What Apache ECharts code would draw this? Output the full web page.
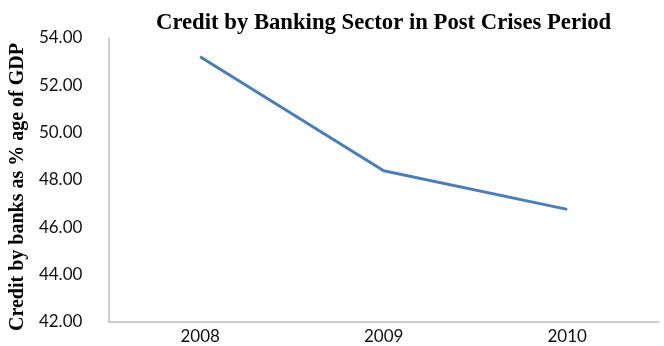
<!DOCTYPE html>
<html>
<head>
<meta charset="utf-8">
<script src="https://cdn.jsdelivr.net/npm/echarts@6/dist/echarts.min.js"></script>
<style>
  html, body { margin: 0; padding: 0; background: #fff; }
  #chart { width: 664px; height: 346px; }
</style>
</head>
<body>
<div id="chart"></div>
<script>
// data
const years = ['2008', '2009', '2010']
const creditPctGdp = [53.21, 48.39, 46.76]

const chart = echarts.init(document.getElementById('chart'))
chart.setOption({
  animation: false,
  title: {
    text: 'Credit by Banking Sector in Post Crises Period',
    left: 151,
    top: 7,
    textStyle: {
      fontFamily: 'Liberation Serif',
      fontWeight: 'bold',
      fontSize: 22.7,
      color: '#000'
    }
  },
  grid: {
    left: 106,
    right: 5,
    top: 38,
    bottom: 24
  },
  xAxis: {
    type: 'category',
    data: years,
    boundaryGap: true,
    axisTick: { show: false },
    axisLine: { lineStyle: { color: '#bfbfbf', width: 1.5 } },
    axisLabel: {
      color: '#111',
      fontFamily: 'Lato',
      fontSize: 17,
      margin: 6
    }
  },
  yAxis: {
    type: 'value',
    min: 42,
    max: 54,
    interval: 2,
    name: 'Credit by banks as % age of GDP',
    nameLocation: 'middle',
    nameRotate: 90,
    nameGap: 70,
    nameTextStyle: {
      fontFamily: 'Liberation Serif',
      fontWeight: 'bold',
      fontSize: 20,
      color: '#000',
      padding: [0, 14, 0, 0]
    },
    splitLine: { show: false },
    axisTick: { show: false },
    axisLine: { show: true, lineStyle: { color: '#bfbfbf', width: 1.5 } },
    axisLabel: {
      color: '#111',
      fontFamily: 'Lato',
      fontSize: 17,
      margin: 26,
      formatter: v => v.toFixed(2)
    }
  },
  series: [
    {
      type: 'line',
      data: creditPctGdp,
      showSymbol: false,
      lineStyle: { color: '#4a7ebb', width: 3 }
    }
  ]
})
</script>
</body>
</html>
